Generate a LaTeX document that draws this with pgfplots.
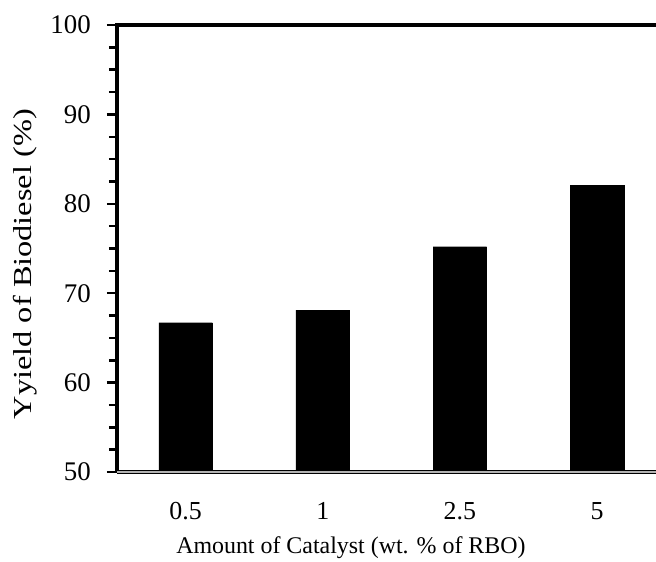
\documentclass[border=0pt]{standalone}
\usepackage{pgfplots}
\pgfplotsset{compat=1.18}
\usepackage{fontspec}
\setmainfont{Liberation Serif}
\newcommand{\labf}{\fontsize{24}{28}\selectfont}
\newcommand{\yf}{\fontsize{26}{30}\selectfont}
\newcommand{\tf}{\fontsize{27}{31}\selectfont}
\begin{document}
\begin{tikzpicture}
\begin{axis}[
  at={(0,0)}, anchor=south west,
  scale only axis, width=539bp, height=447bp,
  xmin=-0.5, xmax=3.43, ymin=50, ymax=100,
  ytick={50,60,...,100}, minor y tick num=3,
  xtick={0,1,2,3}, xticklabels={0.5,1,2.5,5},
  axis line style={draw=none},
  tick align=outside, ytick pos=left, xtick pos=bottom,
  major tick length=10bp, minor tick length=8bp,
  every tick/.style={black, line width=2.5bp},
  major x tick style={draw=none},
  /pgf/number format/assume math mode=true,
  tick label style={font=\tf},
  yticklabel style={anchor=east, inner sep=0pt, xshift=-16bp},
  xticklabel style={anchor=center, inner sep=0pt, yshift=-29bp, font=\fontsize{26}{30}\selectfont},
  every axis y label/.style={at={(axis description cs:-0.171,0.465)}, anchor=center, rotate=90, font=\yf},
  every axis x label/.style={at={(axis description cs:0.434,-0.17)}, anchor=center, font=\labf},
  ylabel={\scalebox{1.25}[1]{Yyield of Biodiesel (\%)}},
  xlabel={Amount of Catalyst (wt. \% of RBO)},
  clip=false,
  ybar, bar width=0.39,
]
\addplot[fill=black, draw=black] coordinates {(0,66.7) (1,68.1) (2,75.2) (3,82.1)};
\draw[line width=4bp] (rel axis cs:0,0) -- (rel axis cs:0,1) -- (rel axis cs:1,1);
\draw[line width=1.2bp, double=gray!60, double distance=1.5bp] (rel axis cs:0,0) -- (rel axis cs:1,0);
\end{axis}
\pgfresetboundingbox
\path[use as bounding box] (-117bp,-90bp) rectangle (539bp,472bp);
\end{tikzpicture}
\end{document}
